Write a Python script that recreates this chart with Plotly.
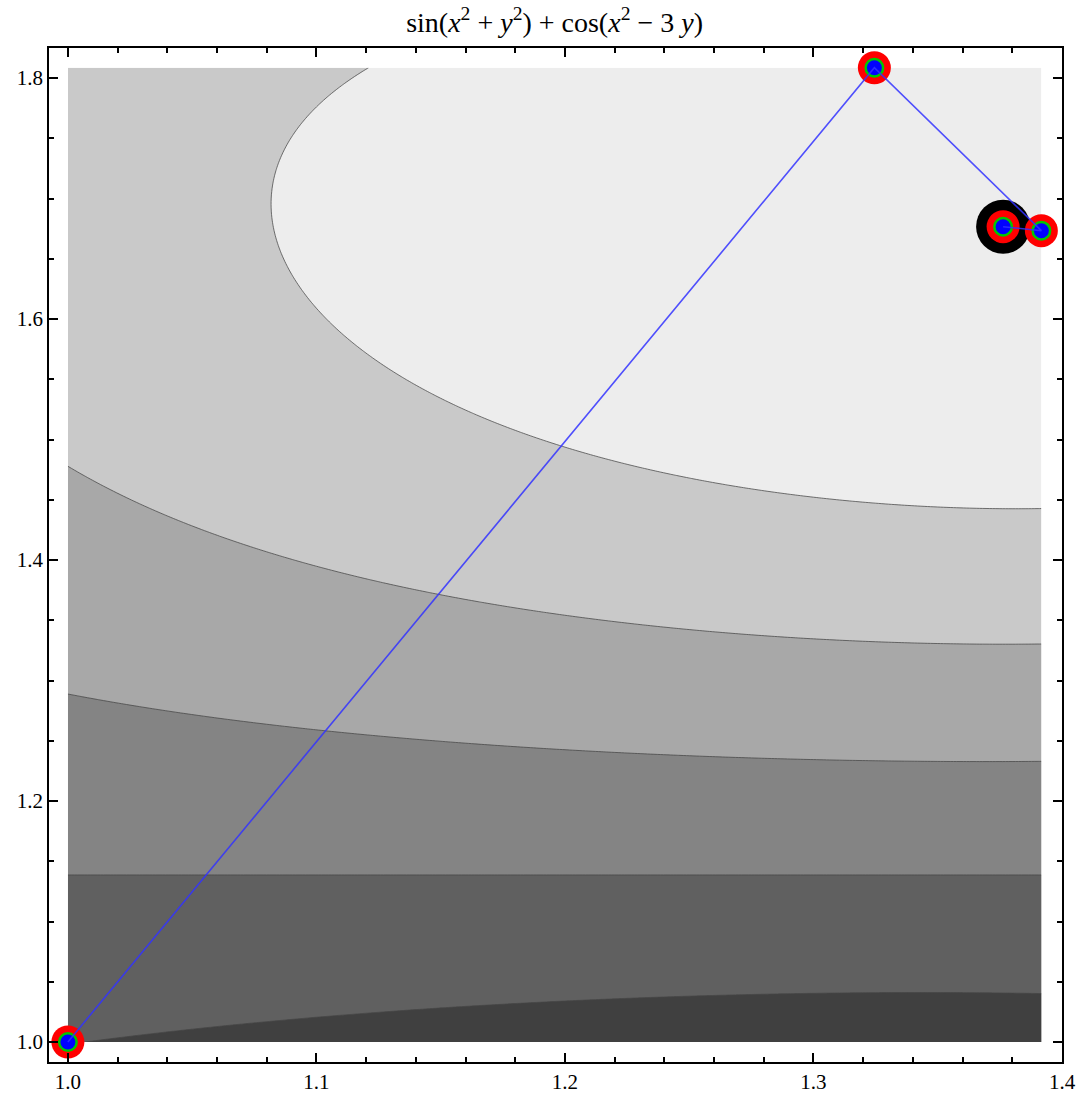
import numpy as np
import plotly.graph_objects as go

# Optimisation path
path_x = [1.0, 1.3245, 1.3917, 1.3763]
path_y = [1.0, 1.8085, 1.6733, 1.6766]
final_x = [1.3763]
final_y = [1.6766]

# contour levels and band colours (lowest band first)
levels = [-1.5, -1.0, -0.5, 0.0, 0.5]
band_colors = ["#ededed", "#c9c9c9", "#a8a8a8", "#848484", "#606060", "#404040"]

title_text = ("sin(<i>x</i><sup>2</sup> + <i>y</i><sup>2</sup>) + "
              "cos(<i>x</i><sup>2</sup> − 3 <i>y</i>)")

# surface given by the title, evaluated over the path's bounding box
gx = np.linspace(min(path_x), max(path_x), 300)
gy = np.linspace(min(path_y), max(path_y), 300)
X, Y = np.meshgrid(gx, gy)
Z = np.sin(X**2 + Y**2) + np.cos(X**2 - 3 * Y)

fig = go.Figure()

# constraint contours shade the region where the constraint fails,
# so operation "<" shades z >= value.
fig.add_trace(go.Contour(
    x=gx, y=gy, z=Z, showscale=False, hoverinfo="skip",
    contours=dict(type="constraint", operation="<", value=-100),
    fillcolor=band_colors[0], line=dict(width=0),
))
for lev, col in zip(levels, band_colors[1:]):
    fig.add_trace(go.Contour(
        x=gx, y=gy, z=Z, showscale=False, hoverinfo="skip",
        contours=dict(type="constraint", operation="<", value=lev),
        fillcolor=col, line=dict(color="rgba(70,70,70,0.75)", width=1, smoothing=1),
    ))

# markers
fig.add_trace(go.Scatter(x=final_x, y=final_y, mode="markers",
                         marker=dict(size=54, color="black", line=dict(width=0)),
                         showlegend=False, hoverinfo="skip"))
fig.add_trace(go.Scatter(x=path_x, y=path_y, mode="markers",
                         marker=dict(size=33, color="#ff0000", line=dict(width=0)),
                         showlegend=False, hoverinfo="skip"))
fig.add_trace(go.Scatter(x=path_x, y=path_y, mode="markers",
                         marker=dict(size=20, color="#00c800", line=dict(width=0)),
                         showlegend=False, hoverinfo="skip"))
fig.add_trace(go.Scatter(x=path_x, y=path_y, mode="markers",
                         marker=dict(size=15, color="#0000ff", line=dict(width=0)),
                         showlegend=False, hoverinfo="skip"))
# path line
fig.add_trace(go.Scatter(x=path_x, y=path_y, mode="lines",
                         line=dict(color="rgba(50,50,255,0.85)", width=1.6),
                         showlegend=False, hoverinfo="skip"))

axis_common = dict(
    showline=True, linecolor="black", linewidth=1.5, mirror="allticks",
    ticks="inside", ticklen=9, tickwidth=1.5, tickcolor="black",
    showgrid=False, zeroline=False, tickformat=".1f", automargin=False,
    tickfont=dict(family="Liberation Serif", size=21, color="black"),
)
fig.update_xaxes(range=[0.9924, 1.4], tick0=1.0, dtick=0.1,
                 minor=dict(dtick=0.02, tick0=1.0, ticks="inside", ticklen=5,
                            tickwidth=1.5, tickcolor="black", showgrid=False),
                 **axis_common)
fig.update_yaxes(range=[0.9834, 1.8249], tick0=1.0, dtick=0.2,
                 minor=dict(dtick=0.05, tick0=1.0, ticks="inside", ticklen=5,
                            tickwidth=1.5, tickcolor="black", showgrid=False),
                 **axis_common)

fig.update_layout(
    width=1080, height=1094,
    margin=dict(l=49, r=18, t=48, b=32),
    paper_bgcolor="white", plot_bgcolor="white",
    title=dict(text=title_text, x=0.5135, xanchor="center",
               y=1 - 22 / 1094, yref="container", yanchor="middle",
               font=dict(family="Liberation Serif", size=28, color="black")),
    showlegend=False,
)

fig.write_html("out.html")
